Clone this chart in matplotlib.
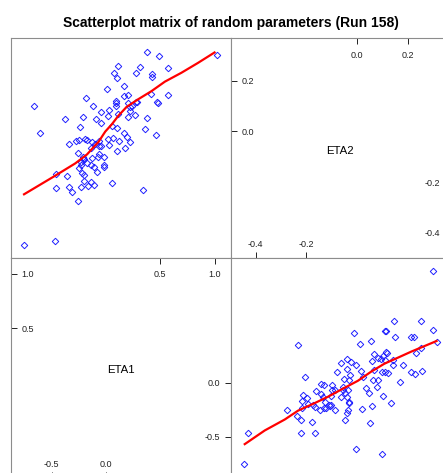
import matplotlib
matplotlib.use("Agg")
import matplotlib.pyplot as plt

plt.rcParams["font.family"] = ["Liberation Sans", "DejaVu Sans"]
plt.rcParams["axes.unicode_minus"] = False

# ---------------- Data ---------------- #
eta1 = [1.023, 0.569, 0.569, 0.486, 0.477, 0.471, 0.459, 0.416, 0.422, 0.422,
        0.343, 0.358, 0.380, 0.316, 0.377, 0.267, 0.282, 0.273, 0.273, 0.218,
        0.194, 0.163, 0.178, 0.224, 0.221, 0.245, 0.206, 0.206, 0.203, 0.122,
        0.102, 0.105, 0.114, 0.166, 0.166, 0.096, 0.096, 0.090, 0.099, 0.075,
        0.111, 0.053, 0.069, 0.032, 0.020, 0.053, 0.023, 0.026, 0.008, -0.014,
        -0.020, -0.020, -0.066, -0.069, -0.078, -0.044, -0.066, -0.066, -0.047, -0.044,
        -0.111, -0.139, -0.108, -0.133, -0.127, -0.136, -0.099, -0.130, -0.093, -0.120,
        -0.166, -0.200, -0.203, -0.221, -0.175, -0.203, -0.215, -0.249, -0.230, -0.230,
        -0.209, -0.255, -0.175, -0.191, -0.249, -0.276, -0.242, -0.215, -0.185, -0.255,
        -0.230, -0.310, -0.340, -0.361, -0.340, -0.374, -0.465, -0.459, -0.459, -0.608,
        -0.657, -0.749]
eta2 = [0.301, 0.145, 0.250, 0.299, 0.110, 0.114, -0.014, 0.149, 0.213, 0.225,
        -0.232, 0.011, 0.054, 0.253, 0.313, 0.066, 0.115, 0.116, 0.232, -0.040,
        -0.024, -0.005, -0.064, 0.082, 0.096, 0.102, 0.110, 0.142, 0.057, -0.039,
        -0.079, 0.014, 0.068, 0.141, 0.180, 0.099, 0.110, 0.120, 0.212, 0.230,
        0.257, -0.205, -0.027, -0.053, -0.032, 0.023, 0.061, 0.083, 0.169, -0.142,
        -0.131, -0.100, -0.089, -0.100, -0.161, -0.056, -0.057, -0.036, 0.035, 0.078,
        -0.213, -0.199, -0.142, -0.133, -0.104, -0.064, -0.048, -0.040, 0.048, 0.102,
        -0.217, -0.195, -0.173, -0.166, -0.125, -0.110, -0.107, -0.145, -0.131, -0.121,
        -0.102, -0.087, -0.033, -0.031, -0.035, -0.039, 0.018, 0.057, 0.132, -0.276,
        -0.219, -0.237, -0.221, -0.177, -0.048, 0.049, -0.431, -0.222, -0.167, -0.005,
        0.100, -0.446]

# smooth of ETA2 on ETA1 (upper-left panel)
smooth_a_eta1 = [-0.753, -0.479, -0.281, -0.174, -0.067, -0.006, 0.055, 0.116,
                 0.192, 0.299, 0.421, 0.543, 0.695, 0.848, 1.000]
smooth_a_eta2 = [-0.248, -0.178, -0.126, -0.091, -0.041, -0.001, 0.028, 0.062,
                 0.097, 0.127, 0.159, 0.196, 0.231, 0.270, 0.311]
# smooth of ETA1 on ETA2 (lower-right panel)
smooth_b_eta2 = [-0.443, -0.364, -0.285, -0.233, -0.167, -0.115, -0.062, 0.003,
                 0.056, 0.108, 0.161, 0.213, 0.266, 0.313]
smooth_b_eta1 = [-0.566, -0.440, -0.339, -0.258, -0.188, -0.130, -0.063, 0.017,
                 0.102, 0.175, 0.230, 0.285, 0.337, 0.383]

eta1_ticks_low = [-0.5, 0.0]
eta1_ticks_high = [0.5, 1.0]
eta2_ticks_low = [-0.4, -0.2]
eta2_ticks_high = [0.0, 0.2]

title = "Scatterplot matrix of random parameters (Run 158)"


def padded(vals, frac=0.07):
    lo, hi = min(vals), max(vals)
    d = (hi - lo) * frac
    return lo - d, hi + d


lim1 = padded(eta1)
lim2 = padded(eta2)

# ---------------- Layout (pixels) ---------------- #
W, H = 443, 473
L, T, S = 11, 38.5, 219.5
FRAME = "#8c8c8c"
TXT = "#222222"

fig = plt.figure(figsize=(W / 100, H / 100), dpi=100)


def px_axes(x0, y0):
    ax = fig.add_axes([x0 / W, 1 - (y0 + S) / H, S / W, S / H])
    for sp in ax.spines.values():
        sp.set_color(FRAME)
        sp.set_linewidth(0.8)
    ax.set_xticks([])
    ax.set_yticks([])
    return ax


def fmt(vals):
    return [f"{v:.1f}" for v in vals]


def diag_panel(ax, name, lim, low, high):
    ax.set_xlim(lim)
    ax.set_ylim(lim)
    ax.text(0.5, 0.489, name, transform=ax.transAxes, ha="center", va="center",
            fontsize=8.2, color="black")
    kw = dict(direction="in", length=4, width=0.7, color=TXT, labelcolor=TXT, labelsize=6.5)

    ax.set_xticks(low, fmt(low))
    ax.set_yticks(high, fmt(high))
    ax.tick_params(axis="x", pad=-9.4, **kw)
    ax.tick_params(axis="y", pad=-7.7, **kw)
    for lb in ax.get_xticklabels():
        lb.set_va("center")
    for lb in ax.get_yticklabels():
        lb.set_ha("left")

    top = ax.secondary_xaxis("top")
    top.set_xticks(high, fmt(high))
    top.tick_params(axis="x", pad=-11.9, **kw)
    for lb in top.get_xticklabels():
        lb.set_va("center")

    right = ax.secondary_yaxis("right")
    right.set_yticks(low, fmt(low))
    right.tick_params(axis="y", pad=-7.2, **kw)
    for lb in right.get_yticklabels():
        lb.set_ha("right")

    for sec in (top, right):
        for sp in sec.spines.values():
            sp.set_visible(False)


def scatter_panel(ax, x, y, sx, sy, xlim, ylim):
    ax.plot(x, y, linestyle="none", marker="D", markersize=3.3,
            markerfacecolor="none", markeredgecolor="#2020ff", markeredgewidth=0.7)
    ax.plot(sx, sy, color="red", linewidth=1.6)
    ax.set_xlim(xlim)
    ax.set_ylim(ylim)


ax_tl = px_axes(L, T)
ax_tr = px_axes(L + S, T)
ax_bl = px_axes(L, T + S)
ax_br = px_axes(L + S, T + S)

scatter_panel(ax_tl, eta1, eta2, smooth_a_eta1, smooth_a_eta2, lim1, lim2)
scatter_panel(ax_br, eta2, eta1, smooth_b_eta2, smooth_b_eta1, lim2, lim1)
diag_panel(ax_tr, "ETA2", lim2, eta2_ticks_low, eta2_ticks_high)
diag_panel(ax_bl, "ETA1", lim1, eta1_ticks_low, eta1_ticks_high)

fig.text(0.5 * (2 * L + 2 * S) / W, 1 - 23 / H, title, ha="center", va="center",
         fontsize=10, fontweight="bold", color="black")

fig.savefig("out.png", dpi=100)
